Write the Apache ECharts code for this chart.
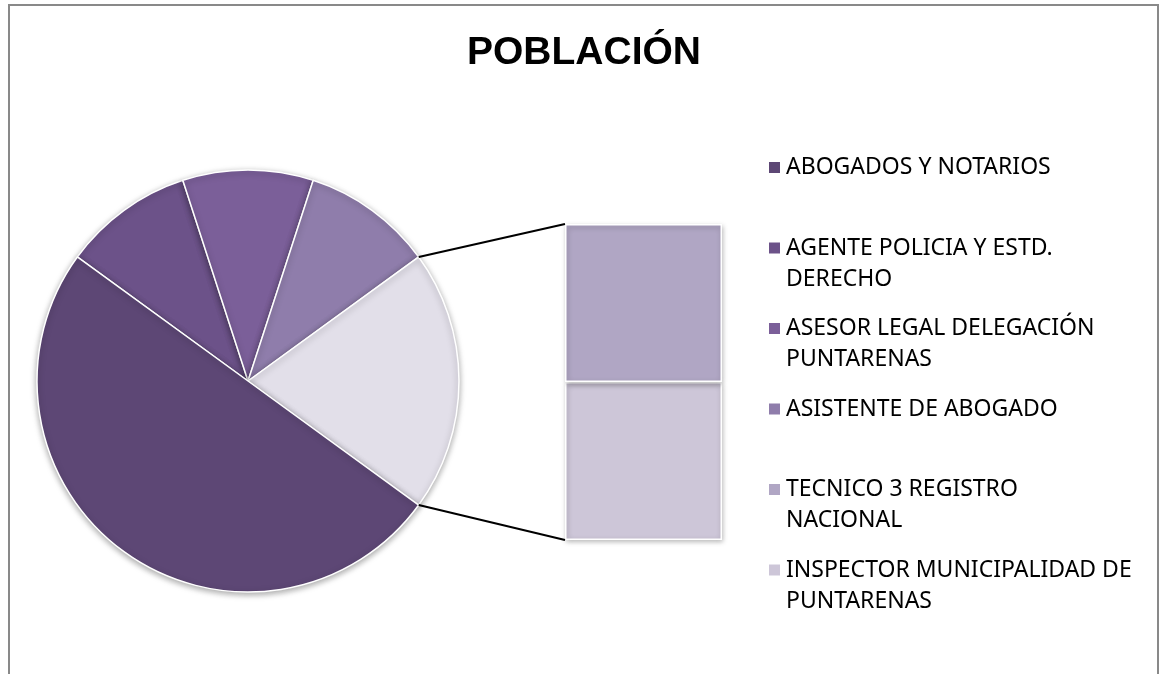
<!DOCTYPE html>
<html>
<head>
<meta charset="utf-8">
<script src="https://cdn.jsdelivr.net/npm/echarts@6/dist/echarts.min.js"></script>
<style>
  html, body { margin: 0; padding: 0; background: #fff; }
  #main { width: 1160px; height: 674px; }
</style>
</head>
<body>
<div id="main"></div>
<script>
// pie part
const pieNames = ['ABOGADOS Y NOTARIOS', 'AGENTE POLICIA Y ESTD. DERECHO', 'ASESOR LEGAL DELEGACIÓN PUNTARENAS', 'ASISTENTE DE ABOGADO'];
const pieValues = [5, 1, 1, 1];
const pieColors = ['#5d4775', '#6c5289', '#7b5f99', '#8f7dab'];
// split-off part (bar)
const barNames = ['TECNICO 3 REGISTRO NACIONAL', 'INSPECTOR MUNICIPALIDAD DE PUNTARENAS'];
const barValues = [1, 1];
const barColors = ['#b0a6c4', '#cdc6d8'];
const otherName = 'Otro';
const otherColor = '#e2dfe9';

const chart = echarts.init(document.getElementById('main'));

const center = [248, 381];
const radius = 211;
const startAngle = 144;
const gridBox = { left: 565, top: 224, width: 157, height: 316 };
const font = 'Noto Sans';
const lineH = 31;

const wrap = (s, max) => {
  const words = s.split(' ');
  const lines = [];
  let cur = '';
  words.forEach(w => {
    const t = cur ? cur + ' ' + w : w;
    if (t.length > max && cur) { lines.push(cur); cur = w; } else cur = t;
  });
  lines.push(cur);
  return lines;
};

const otherTotal = barValues.reduce((a, b) => a + b, 0);
const total = pieValues.reduce((a, b) => a + b, 0) + otherTotal;

// clockwise from 144deg: agente, asesor, asistente, otro, abogados
const order = [1, 2, 3];
const pieData = order.map(i => ({ name: pieNames[i], value: pieValues[i], itemStyle: { color: pieColors[i] } }));
pieData.push({ name: otherName, value: otherTotal, itemStyle: { color: otherColor } });
pieData.push({ name: pieNames[0], value: pieValues[0], itemStyle: { color: pieColors[0] } });

// angles of the "other" slice
let before = 0;
order.forEach(i => before += pieValues[i]);
const a1 = startAngle - 360 * before / total;
const a2 = a1 - 360 * otherTotal / total;
const edge = a => [center[0] + radius * Math.cos(a * Math.PI / 180), center[1] - radius * Math.sin(a * Math.PI / 180)];
const p1 = edge(a1), p2 = edge(a2);

// legend text as 3 lines: blank, first line, second (or blank) so the marker sits on line one
const legendLabel = n => {
  const l = wrap(n, 26);
  return [' ', l[0], l[1] || ' '].join('\n');
};

const option = {
  animation: false,
  title: {
    text: 'POBLACIÓN',
    left: 467,
    top: 34,
    padding: 0,
    textStyle: { fontFamily: 'Liberation Sans', fontWeight: 'bold', fontSize: 39, color: '#000' }
  },
  legend: {
    orient: 'vertical',
    left: 767,
    top: 121,
    padding: 0,
    itemWidth: 13,
    itemHeight: 13,
    itemGap: 80.5 - 3 * lineH,
    icon: 'rect',
    selectedMode: false,
    data: pieNames.concat(barNames),
    formatter: legendLabel,
    textStyle: { fontFamily: font, fontSize: 23, color: '#000', lineHeight: lineH }
  },
  grid: Object.assign({}, gridBox),
  xAxis: { type: 'category', data: [''], show: false },
  yAxis: { type: 'value', min: 0, max: otherTotal, show: false },
  series: [
    {
      type: 'pie',
      center: center,
      radius: radius,
      startAngle: startAngle,
      clockwise: true,
      label: { show: false },
      labelLine: { show: false },
      emphasis: { disabled: true },
      itemStyle: {
        borderColor: '#fff', borderWidth: 1.5,
        shadowBlur: 6, shadowColor: 'rgba(0,0,0,0.35)', shadowOffsetY: 2
      },
      data: pieData
    },
    // bottom segment first so it stacks underneath
    {
      type: 'bar', name: barNames[1], stack: 'o', barWidth: '100%',
      data: [barValues[1]],
      itemStyle: { color: barColors[1], borderColor: '#fff', borderWidth: 1.5, shadowBlur: 5, shadowColor: 'rgba(0,0,0,0.3)', shadowOffsetX: 1, shadowOffsetY: 2 },
      emphasis: { disabled: true }
    },
    {
      type: 'bar', name: barNames[0], stack: 'o', barWidth: '100%',
      data: [barValues[0]],
      itemStyle: { color: barColors[0], borderColor: '#fff', borderWidth: 1.5, shadowBlur: 5, shadowColor: 'rgba(0,0,0,0.3)', shadowOffsetX: 1, shadowOffsetY: 2 },
      emphasis: { disabled: true }
    }
  ],
  graphic: [
    { type: 'rect', shape: { x: 9, y: 5, width: 1149, height: 720 }, style: { fill: 'none', stroke: '#898989', lineWidth: 2 }, silent: true },
    { type: 'line', shape: { x1: p1[0], y1: p1[1], x2: gridBox.left, y2: gridBox.top }, style: { stroke: '#000', lineWidth: 2 }, z: 10 },
    { type: 'line', shape: { x1: p2[0], y1: p2[1], x2: gridBox.left, y2: gridBox.top + gridBox.height }, style: { stroke: '#000', lineWidth: 2 }, z: 10 }
  ]
};

chart.setOption(option);
</script>
</body>
</html>
